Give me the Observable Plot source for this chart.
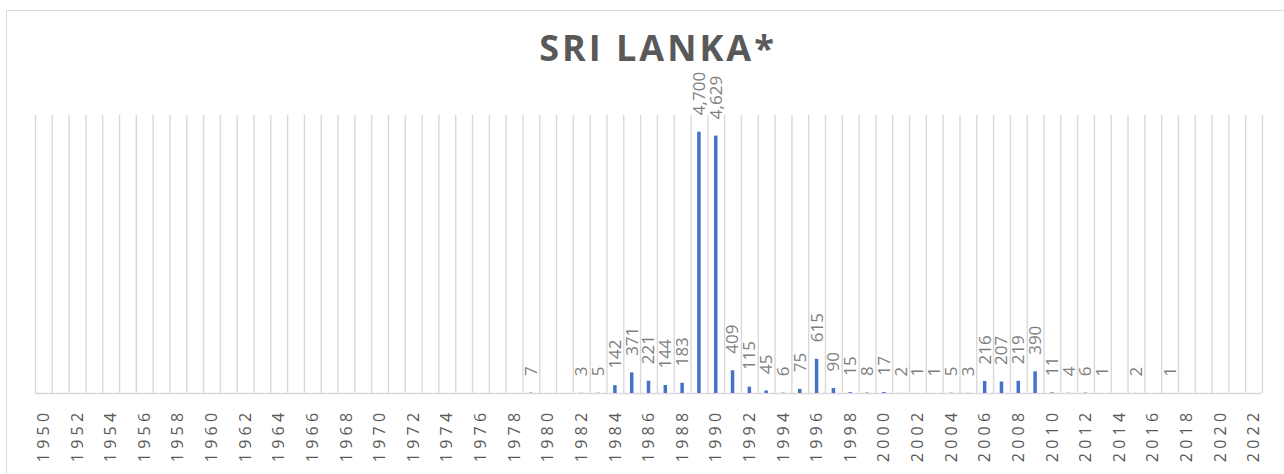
<!DOCTYPE html>
<html>
<head>
<meta charset="utf-8">
<script src="https://cdn.jsdelivr.net/npm/d3@7"></script>
<script src="https://cdn.jsdelivr.net/npm/@observablehq/plot@0.6"></script>
<style>
  html, body { margin: 0; padding: 0; background: #fff; }
  #wrap { position: relative; width: 1284px; height: 474px; overflow: hidden; background: #fff; }
  #frame { position: absolute; left: 6px; top: 10px; width: 1300px; height: 500px; border: 1.5px solid #d9d9d9; box-sizing: border-box; }
  #title { position: absolute; left: 0; width: 1316px; top: 24px; text-align: center; font-family: "Open Sans", sans-serif; font-weight: 700; font-size: 36px; letter-spacing: 3px; color: #595959; line-height: 48px; }
  #chart { position: absolute; left: 0; top: 0; }
</style>
</head>
<body>
<div id="wrap">
  <div id="frame"></div>
  <div id="title">SRI LANKA*</div>
  <div id="chart"></div>
</div>
<script>
const startYear = 1950;
const endYear = 2022;
const years = d3.range(startYear, endYear + 1);
const tickYears = years.filter(y => (y - startYear) % 2 === 0);

const labelYears = [1979, 1982, 1983, 1984, 1985, 1986, 1987, 1988, 1989, 1990, 1991, 1992, 1993, 1994, 1995, 1996, 1997, 1998, 1999, 2000, 2001, 2002, 2003, 2004, 2005, 2006, 2007, 2008, 2009, 2010, 2011, 2012, 2013, 2015, 2017];
const labelValues = [7, 3, 5, 142, 371, 221, 144, 183, 4700, 4629, 409, 115, 45, 6, 75, 615, 90, 15, 8, 17, 2, 1, 1, 5, 3, 216, 207, 219, 390, 11, 4, 6, 1, 2, 1];

const data = labelYears.map((y, i) => ({year: y, value: labelValues[i]}));

const W = 1284, H = 474;
const mL = 35, mR = 22, mT = 115, mB = 81;
const bw = (W - mL - mR) / years.length;
const barW = 3.5;
const inset = (bw - barW) / 2;

const plot = Plot.plot({
  width: W,
  height: H,
  marginLeft: mL,
  marginRight: mR,
  marginTop: mT,
  marginBottom: mB,
  style: {background: "transparent", overflow: "visible"},
  x: {type: "band", domain: years, padding: 0, axis: null},
  y: {domain: [0, 5000], axis: null},
  marks: [
    Plot.ruleX(years, {x: d => d, y1: 0, y2: 5000, dx: -bw / 2, stroke: "#d9d9d9", strokeWidth: 1.4}),
    Plot.ruleX([endYear], {x: d => d, y1: 0, y2: 5000, dx: bw / 2, stroke: "#d9d9d9", strokeWidth: 1.4}),
    Plot.ruleY([0], {stroke: "#d9d9d9", strokeWidth: 1.6}),
    Plot.barY(data, {x: "year", y: "value", fill: "#4472c4", insetLeft: inset, insetRight: inset}),
    Plot.text(tickYears, {x: d => d, frameAnchor: "bottom", dy: 15, rotate: -90, textAnchor: "end", lineAnchor: "middle", text: d => String(d), fill: "#595959", fontSize: 16, fontFamily: "Open Sans, sans-serif"}),
    Plot.text(data, {x: "year", y: "value", dy: -17, rotate: -90, textAnchor: "start", lineAnchor: "middle", text: d => d3.format(",")(d.value), fill: "#7f7f7f", fontSize: 17, fontFamily: "Open Sans, sans-serif"})
  ]
});

const texts = d3.select(plot).selectAll('g[aria-label="text"]').nodes();
if (texts.length) d3.select(texts[0]).selectAll("text").style("letter-spacing", "4.3px");

document.getElementById("chart").appendChild(plot);
</script>
</body>
</html>
